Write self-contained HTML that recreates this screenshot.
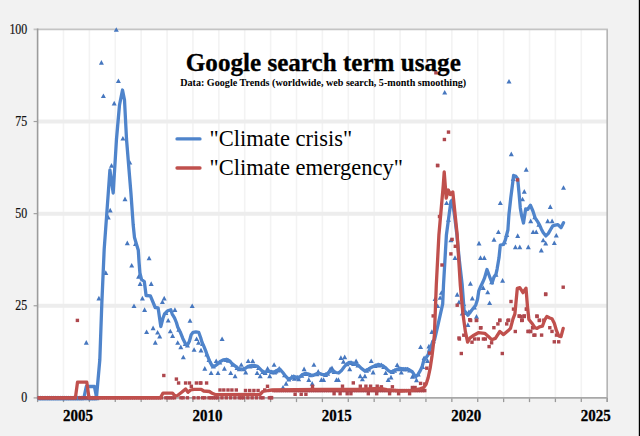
<!DOCTYPE html>
<html><head><meta charset="utf-8"><style>
html,body{margin:0;padding:0;background:#f2f2f2;overflow:hidden}
svg{display:block}
text{font-family:"Liberation Serif",serif}
</style></head><body>
<svg width="640" height="436" viewBox="0 0 640 436">
<rect x="0" y="0" width="640" height="436" fill="#f2f2f2"/>
<rect x="37.6" y="29.399999999999977" width="569.58" height="368.5" fill="#ffffff"/>
<line x1="63.49" y1="29.40" x2="63.49" y2="397.90" stroke="#f3f3f3" stroke-width="1.6"/>
<line x1="89.38" y1="29.40" x2="89.38" y2="397.90" stroke="#f3f3f3" stroke-width="1.6"/>
<line x1="115.27" y1="29.40" x2="115.27" y2="397.90" stroke="#f3f3f3" stroke-width="1.6"/>
<line x1="141.16" y1="29.40" x2="141.16" y2="397.90" stroke="#f3f3f3" stroke-width="1.6"/>
<line x1="167.05" y1="29.40" x2="167.05" y2="397.90" stroke="#f3f3f3" stroke-width="1.6"/>
<line x1="192.94" y1="29.40" x2="192.94" y2="397.90" stroke="#f3f3f3" stroke-width="1.6"/>
<line x1="218.83" y1="29.40" x2="218.83" y2="397.90" stroke="#f3f3f3" stroke-width="1.6"/>
<line x1="244.72" y1="29.40" x2="244.72" y2="397.90" stroke="#f3f3f3" stroke-width="1.6"/>
<line x1="270.61" y1="29.40" x2="270.61" y2="397.90" stroke="#f3f3f3" stroke-width="1.6"/>
<line x1="296.50" y1="29.40" x2="296.50" y2="397.90" stroke="#f3f3f3" stroke-width="1.6"/>
<line x1="322.39" y1="29.40" x2="322.39" y2="397.90" stroke="#f3f3f3" stroke-width="1.6"/>
<line x1="348.28" y1="29.40" x2="348.28" y2="397.90" stroke="#f3f3f3" stroke-width="1.6"/>
<line x1="374.17" y1="29.40" x2="374.17" y2="397.90" stroke="#f3f3f3" stroke-width="1.6"/>
<line x1="400.06" y1="29.40" x2="400.06" y2="397.90" stroke="#f3f3f3" stroke-width="1.6"/>
<line x1="425.95" y1="29.40" x2="425.95" y2="397.90" stroke="#f3f3f3" stroke-width="1.6"/>
<line x1="451.84" y1="29.40" x2="451.84" y2="397.90" stroke="#f3f3f3" stroke-width="1.6"/>
<line x1="477.73" y1="29.40" x2="477.73" y2="397.90" stroke="#f3f3f3" stroke-width="1.6"/>
<line x1="503.62" y1="29.40" x2="503.62" y2="397.90" stroke="#f3f3f3" stroke-width="1.6"/>
<line x1="529.51" y1="29.40" x2="529.51" y2="397.90" stroke="#f3f3f3" stroke-width="1.6"/>
<line x1="555.40" y1="29.40" x2="555.40" y2="397.90" stroke="#f3f3f3" stroke-width="1.6"/>
<line x1="581.29" y1="29.40" x2="581.29" y2="397.90" stroke="#f3f3f3" stroke-width="1.6"/>
<line x1="37.6" y1="305.77" x2="607.18" y2="305.77" stroke="#ededed" stroke-width="4"/>
<line x1="37.6" y1="213.65" x2="607.18" y2="213.65" stroke="#ededed" stroke-width="4"/>
<line x1="37.6" y1="121.52" x2="607.18" y2="121.52" stroke="#ededed" stroke-width="4"/>
<line x1="33.6" y1="29.40" x2="607.93" y2="29.40" stroke="#c4c4c4" stroke-width="1.6"/>
<line x1="607.18" y1="29.40" x2="607.18" y2="401.90" stroke="#b4b4b4" stroke-width="1.6"/>
<line x1="33.6" y1="397.90" x2="37.6" y2="397.90" stroke="#a0a0a0" stroke-width="1.2"/>
<line x1="33.6" y1="305.77" x2="37.6" y2="305.77" stroke="#a0a0a0" stroke-width="1.2"/>
<line x1="33.6" y1="213.65" x2="37.6" y2="213.65" stroke="#a0a0a0" stroke-width="1.2"/>
<line x1="33.6" y1="121.52" x2="37.6" y2="121.52" stroke="#a0a0a0" stroke-width="1.2"/>
<line x1="37.60" y1="397.9" x2="37.60" y2="402.09999999999997" stroke="#9a9a9a" stroke-width="1.3"/>
<line x1="63.49" y1="397.9" x2="63.49" y2="402.09999999999997" stroke="#9a9a9a" stroke-width="1.3"/>
<line x1="89.38" y1="397.9" x2="89.38" y2="402.09999999999997" stroke="#9a9a9a" stroke-width="1.3"/>
<line x1="115.27" y1="397.9" x2="115.27" y2="402.09999999999997" stroke="#9a9a9a" stroke-width="1.3"/>
<line x1="141.16" y1="397.9" x2="141.16" y2="402.09999999999997" stroke="#9a9a9a" stroke-width="1.3"/>
<line x1="167.05" y1="397.9" x2="167.05" y2="402.09999999999997" stroke="#9a9a9a" stroke-width="1.3"/>
<line x1="192.94" y1="397.9" x2="192.94" y2="402.09999999999997" stroke="#9a9a9a" stroke-width="1.3"/>
<line x1="218.83" y1="397.9" x2="218.83" y2="402.09999999999997" stroke="#9a9a9a" stroke-width="1.3"/>
<line x1="244.72" y1="397.9" x2="244.72" y2="402.09999999999997" stroke="#9a9a9a" stroke-width="1.3"/>
<line x1="270.61" y1="397.9" x2="270.61" y2="402.09999999999997" stroke="#9a9a9a" stroke-width="1.3"/>
<line x1="296.50" y1="397.9" x2="296.50" y2="402.09999999999997" stroke="#9a9a9a" stroke-width="1.3"/>
<line x1="322.39" y1="397.9" x2="322.39" y2="402.09999999999997" stroke="#9a9a9a" stroke-width="1.3"/>
<line x1="348.28" y1="397.9" x2="348.28" y2="402.09999999999997" stroke="#9a9a9a" stroke-width="1.3"/>
<line x1="374.17" y1="397.9" x2="374.17" y2="402.09999999999997" stroke="#9a9a9a" stroke-width="1.3"/>
<line x1="400.06" y1="397.9" x2="400.06" y2="402.09999999999997" stroke="#9a9a9a" stroke-width="1.3"/>
<line x1="425.95" y1="397.9" x2="425.95" y2="402.09999999999997" stroke="#9a9a9a" stroke-width="1.3"/>
<line x1="451.84" y1="397.9" x2="451.84" y2="402.09999999999997" stroke="#9a9a9a" stroke-width="1.3"/>
<line x1="477.73" y1="397.9" x2="477.73" y2="402.09999999999997" stroke="#9a9a9a" stroke-width="1.3"/>
<line x1="503.62" y1="397.9" x2="503.62" y2="402.09999999999997" stroke="#9a9a9a" stroke-width="1.3"/>
<line x1="529.51" y1="397.9" x2="529.51" y2="402.09999999999997" stroke="#9a9a9a" stroke-width="1.3"/>
<line x1="555.40" y1="397.9" x2="555.40" y2="402.09999999999997" stroke="#9a9a9a" stroke-width="1.3"/>
<line x1="581.29" y1="397.9" x2="581.29" y2="402.09999999999997" stroke="#9a9a9a" stroke-width="1.3"/>
<line x1="607.18" y1="397.9" x2="607.18" y2="402.09999999999997" stroke="#9a9a9a" stroke-width="1.3"/>
<line x1="37.6" y1="28.60" x2="37.6" y2="398.7" stroke="#9c9c9c" stroke-width="1.6"/>
<line x1="36.800000000000004" y1="397.9" x2="607.18" y2="397.9" stroke="#a8a8a8" stroke-width="1.6"/>
<defs><clipPath id="pc"><rect x="37.6" y="0" width="571.58" height="404"/></clipPath></defs>
<g clip-path="url(#pc)">
<path d="M38.57,395.60 L41.07,400.20 L36.07,400.20Z" fill="#4677bf"/>
<path d="M40.73,395.60 L43.23,400.20 L38.23,400.20Z" fill="#4677bf"/>
<path d="M42.89,395.60 L45.39,400.20 L40.39,400.20Z" fill="#4677bf"/>
<path d="M45.04,395.60 L47.54,400.20 L42.54,400.20Z" fill="#4677bf"/>
<path d="M47.20,395.60 L49.70,400.20 L44.70,400.20Z" fill="#4677bf"/>
<path d="M49.36,395.60 L51.86,400.20 L46.86,400.20Z" fill="#4677bf"/>
<path d="M51.52,395.60 L54.02,400.20 L49.02,400.20Z" fill="#4677bf"/>
<path d="M53.67,395.60 L56.17,400.20 L51.17,400.20Z" fill="#4677bf"/>
<path d="M55.83,395.60 L58.33,400.20 L53.33,400.20Z" fill="#4677bf"/>
<path d="M57.99,395.60 L60.49,400.20 L55.49,400.20Z" fill="#4677bf"/>
<path d="M60.15,395.60 L62.65,400.20 L57.65,400.20Z" fill="#4677bf"/>
<path d="M62.30,395.60 L64.80,400.20 L59.80,400.20Z" fill="#4677bf"/>
<path d="M64.46,395.60 L66.96,400.20 L61.96,400.20Z" fill="#4677bf"/>
<path d="M66.62,395.60 L69.12,400.20 L64.12,400.20Z" fill="#4677bf"/>
<path d="M68.78,395.60 L71.28,400.20 L66.28,400.20Z" fill="#4677bf"/>
<path d="M70.93,395.60 L73.43,400.20 L68.43,400.20Z" fill="#4677bf"/>
<path d="M73.09,395.60 L75.59,400.20 L70.59,400.20Z" fill="#4677bf"/>
<path d="M75.25,395.60 L77.75,400.20 L72.75,400.20Z" fill="#4677bf"/>
<path d="M77.41,395.60 L79.91,400.20 L74.91,400.20Z" fill="#4677bf"/>
<path d="M79.56,395.60 L82.06,400.20 L77.06,400.20Z" fill="#4677bf"/>
<path d="M81.72,395.60 L84.22,400.20 L79.22,400.20Z" fill="#4677bf"/>
<path d="M83.88,395.60 L86.38,400.20 L81.38,400.20Z" fill="#4677bf"/>
<path d="M88.19,395.60 L90.69,400.20 L85.69,400.20Z" fill="#4677bf"/>
<path d="M90.35,395.60 L92.85,400.20 L87.85,400.20Z" fill="#4677bf"/>
<path d="M92.51,395.60 L95.01,400.20 L90.01,400.20Z" fill="#4677bf"/>
<path d="M94.67,395.60 L97.17,400.20 L92.17,400.20Z" fill="#4677bf"/>
<path d="M96.82,395.60 L99.32,400.20 L94.32,400.20Z" fill="#4677bf"/>
<path d="M116.30,27.20 L118.80,31.80 L113.80,31.80Z" fill="#4677bf"/>
<path d="M101.40,60.10 L103.90,64.70 L98.90,64.70Z" fill="#4677bf"/>
<path d="M118.40,78.40 L120.90,83.00 L115.90,83.00Z" fill="#4677bf"/>
<path d="M103.40,93.40 L105.90,98.00 L100.90,98.00Z" fill="#4677bf"/>
<path d="M114.20,100.80 L116.70,105.40 L111.70,105.40Z" fill="#4677bf"/>
<path d="M122.90,135.90 L125.40,140.50 L120.40,140.50Z" fill="#4677bf"/>
<path d="M111.50,163.10 L114.00,167.70 L109.00,167.70Z" fill="#4677bf"/>
<path d="M129.80,159.90 L132.30,164.50 L127.30,164.50Z" fill="#4677bf"/>
<path d="M125.00,196.60 L127.50,201.20 L122.50,201.20Z" fill="#4677bf"/>
<path d="M110.20,207.80 L112.70,212.40 L107.70,212.40Z" fill="#4677bf"/>
<path d="M108.30,214.90 L110.80,219.50 L105.80,219.50Z" fill="#4677bf"/>
<path d="M127.30,240.60 L129.80,245.20 L124.80,245.20Z" fill="#4677bf"/>
<path d="M135.50,241.40 L138.00,246.00 L133.00,246.00Z" fill="#4677bf"/>
<path d="M105.80,270.30 L108.30,274.90 L103.30,274.90Z" fill="#4677bf"/>
<path d="M98.90,295.80 L101.40,300.40 L96.40,300.40Z" fill="#4677bf"/>
<path d="M131.70,263.00 L134.20,267.60 L129.20,267.60Z" fill="#4677bf"/>
<path d="M149.10,255.70 L151.60,260.30 L146.60,260.30Z" fill="#4677bf"/>
<path d="M138.60,274.10 L141.10,278.70 L136.10,278.70Z" fill="#4677bf"/>
<path d="M140.10,281.30 L142.60,285.90 L137.60,285.90Z" fill="#4677bf"/>
<path d="M151.20,281.30 L153.70,285.90 L148.70,285.90Z" fill="#4677bf"/>
<path d="M142.40,295.80 L144.90,300.40 L139.90,300.40Z" fill="#4677bf"/>
<path d="M164.20,295.80 L166.70,300.40 L161.70,300.40Z" fill="#4677bf"/>
<path d="M134.00,303.50 L136.50,308.10 L131.50,308.10Z" fill="#4677bf"/>
<path d="M144.60,307.30 L147.10,311.90 L142.10,311.90Z" fill="#4677bf"/>
<path d="M146.60,329.40 L149.10,334.00 L144.10,334.00Z" fill="#4677bf"/>
<path d="M153.10,325.60 L155.60,330.20 L150.60,330.20Z" fill="#4677bf"/>
<path d="M157.60,330.00 L160.10,334.60 L155.10,334.60Z" fill="#4677bf"/>
<path d="M159.70,333.80 L162.20,338.40 L157.20,338.40Z" fill="#4677bf"/>
<path d="M155.30,340.10 L157.80,344.70 L152.80,344.70Z" fill="#4677bf"/>
<path d="M86.30,340.10 L88.80,344.70 L83.80,344.70Z" fill="#4677bf"/>
<path d="M162.40,299.40 L164.90,304.00 L159.90,304.00Z" fill="#4677bf"/>
<path d="M174.90,307.30 L177.40,311.90 L172.40,311.90Z" fill="#4677bf"/>
<path d="M192.20,303.50 L194.70,308.10 L189.70,308.10Z" fill="#4677bf"/>
<path d="M168.20,318.00 L170.70,322.60 L165.70,322.60Z" fill="#4677bf"/>
<path d="M190.00,318.20 L192.50,322.80 L187.50,322.80Z" fill="#4677bf"/>
<path d="M170.30,328.70 L172.80,333.30 L167.80,333.30Z" fill="#4677bf"/>
<path d="M172.60,333.30 L175.10,337.90 L170.10,337.90Z" fill="#4677bf"/>
<path d="M177.70,340.20 L180.20,344.80 L175.20,344.80Z" fill="#4677bf"/>
<path d="M180.80,344.60 L183.30,349.20 L178.30,349.20Z" fill="#4677bf"/>
<path d="M183.30,354.70 L185.80,359.30 L180.80,359.30Z" fill="#4677bf"/>
<path d="M196.60,336.40 L199.10,341.00 L194.10,341.00Z" fill="#4677bf"/>
<path d="M198.50,340.20 L201.00,344.80 L196.00,344.80Z" fill="#4677bf"/>
<path d="M194.10,347.20 L196.60,351.80 L191.60,351.80Z" fill="#4677bf"/>
<path d="M201.00,347.80 L203.50,352.40 L198.50,352.40Z" fill="#4677bf"/>
<path d="M222.10,336.40 L224.60,341.00 L219.60,341.00Z" fill="#4677bf"/>
<path d="M204.80,366.10 L207.30,370.70 L202.30,370.70Z" fill="#4677bf"/>
<path d="M211.10,370.50 L213.60,375.10 L208.60,375.10Z" fill="#4677bf"/>
<path d="M216.20,358.50 L218.70,363.10 L213.70,363.10Z" fill="#4677bf"/>
<path d="M218.00,370.50 L220.50,375.10 L215.50,375.10Z" fill="#4677bf"/>
<path d="M224.40,366.10 L226.90,370.70 L221.90,370.70Z" fill="#4677bf"/>
<path d="M230.70,370.50 L233.20,375.10 L228.20,375.10Z" fill="#4677bf"/>
<path d="M235.10,373.70 L237.60,378.30 L232.60,378.30Z" fill="#4677bf"/>
<path d="M241.30,362.20 L243.80,366.80 L238.80,366.80Z" fill="#4677bf"/>
<path d="M245.70,369.80 L248.20,374.40 L243.20,374.40Z" fill="#4677bf"/>
<path d="M248.20,358.40 L250.70,363.00 L245.70,363.00Z" fill="#4677bf"/>
<path d="M252.70,358.40 L255.20,363.00 L250.20,363.00Z" fill="#4677bf"/>
<path d="M257.10,370.40 L259.60,375.00 L254.60,375.00Z" fill="#4677bf"/>
<path d="M260.20,373.60 L262.70,378.20 L257.70,378.20Z" fill="#4677bf"/>
<path d="M267.60,366.00 L270.10,370.60 L265.10,370.60Z" fill="#4677bf"/>
<path d="M269.70,373.60 L272.20,378.20 L267.20,378.20Z" fill="#4677bf"/>
<path d="M274.10,362.20 L276.60,366.80 L271.60,366.80Z" fill="#4677bf"/>
<path d="M274.70,369.80 L277.20,374.40 L272.20,374.40Z" fill="#4677bf"/>
<path d="M279.20,366.00 L281.70,370.60 L276.70,370.60Z" fill="#4677bf"/>
<path d="M283.00,384.90 L285.50,389.50 L280.50,389.50Z" fill="#4677bf"/>
<path d="M286.10,381.10 L288.60,385.70 L283.60,385.70Z" fill="#4677bf"/>
<path d="M291.80,374.20 L294.30,378.80 L289.30,378.80Z" fill="#4677bf"/>
<path d="M294.30,376.10 L296.80,380.70 L291.80,380.70Z" fill="#4677bf"/>
<path d="M298.70,376.70 L301.20,381.30 L296.20,381.30Z" fill="#4677bf"/>
<path d="M304.10,366.60 L306.60,371.20 L301.60,371.20Z" fill="#4677bf"/>
<path d="M308.80,377.30 L311.30,381.90 L306.30,381.90Z" fill="#4677bf"/>
<path d="M312.20,381.10 L314.70,385.70 L309.70,385.70Z" fill="#4677bf"/>
<path d="M313.90,362.20 L316.40,366.80 L311.40,366.80Z" fill="#4677bf"/>
<path d="M318.20,369.10 L320.70,373.70 L315.70,373.70Z" fill="#4677bf"/>
<path d="M321.40,377.30 L323.90,381.90 L318.90,381.90Z" fill="#4677bf"/>
<path d="M323.60,377.30 L326.10,381.90 L321.10,381.90Z" fill="#4677bf"/>
<path d="M330.20,366.60 L332.70,371.20 L327.70,371.20Z" fill="#4677bf"/>
<path d="M332.00,365.40 L334.50,370.00 L329.50,370.00Z" fill="#4677bf"/>
<path d="M336.50,377.30 L339.00,381.90 L334.00,381.90Z" fill="#4677bf"/>
<path d="M338.40,377.30 L340.90,381.90 L335.90,381.90Z" fill="#4677bf"/>
<path d="M340.90,355.30 L343.40,359.90 L338.40,359.90Z" fill="#4677bf"/>
<path d="M344.70,354.60 L347.20,359.20 L342.20,359.20Z" fill="#4677bf"/>
<path d="M343.40,359.10 L345.90,363.70 L340.90,363.70Z" fill="#4677bf"/>
<path d="M349.70,366.60 L352.20,371.20 L347.20,371.20Z" fill="#4677bf"/>
<path d="M356.10,358.40 L358.60,363.00 L353.60,363.00Z" fill="#4677bf"/>
<path d="M360.20,373.60 L362.70,378.20 L357.70,378.20Z" fill="#4677bf"/>
<path d="M362.40,376.70 L364.90,381.30 L359.90,381.30Z" fill="#4677bf"/>
<path d="M364.90,373.60 L367.40,378.20 L362.40,378.20Z" fill="#4677bf"/>
<path d="M371.20,358.40 L373.70,363.00 L368.70,363.00Z" fill="#4677bf"/>
<path d="M373.10,369.80 L375.60,374.40 L370.60,374.40Z" fill="#4677bf"/>
<path d="M378.10,362.20 L380.60,366.80 L375.60,366.80Z" fill="#4677bf"/>
<path d="M385.70,370.40 L388.20,375.00 L383.20,375.00Z" fill="#4677bf"/>
<path d="M388.20,377.30 L390.70,381.90 L385.70,381.90Z" fill="#4677bf"/>
<path d="M381.40,362.40 L383.90,367.00 L378.90,367.00Z" fill="#4677bf"/>
<path d="M391.00,374.80 L393.50,379.40 L388.50,379.40Z" fill="#4677bf"/>
<path d="M397.20,362.40 L399.70,367.00 L394.70,367.00Z" fill="#4677bf"/>
<path d="M401.30,370.00 L403.80,374.60 L398.80,374.60Z" fill="#4677bf"/>
<path d="M412.40,374.10 L414.90,378.70 L409.90,378.70Z" fill="#4677bf"/>
<path d="M416.50,377.60 L419.00,382.20 L414.00,382.20Z" fill="#4677bf"/>
<path d="M424.10,355.50 L426.60,360.10 L421.60,360.10Z" fill="#4677bf"/>
<path d="M427.50,358.30 L430.00,362.90 L425.00,362.90Z" fill="#4677bf"/>
<path d="M422.70,364.50 L425.20,369.10 L420.20,369.10Z" fill="#4677bf"/>
<path d="M420.60,344.50 L423.10,349.10 L418.10,349.10Z" fill="#4677bf"/>
<path d="M428.90,343.80 L431.40,348.40 L426.40,348.40Z" fill="#4677bf"/>
<path d="M429.60,347.20 L432.10,351.80 L427.10,351.80Z" fill="#4677bf"/>
<path d="M444.70,90.00 L447.20,94.60 L442.20,94.60Z" fill="#4677bf"/>
<path d="M446.60,200.40 L449.10,205.00 L444.10,205.00Z" fill="#4677bf"/>
<path d="M450.90,237.60 L453.40,242.20 L448.40,242.20Z" fill="#4677bf"/>
<path d="M479.00,240.80 L481.50,245.40 L476.50,245.40Z" fill="#4677bf"/>
<path d="M455.00,255.30 L457.50,259.90 L452.50,259.90Z" fill="#4677bf"/>
<path d="M480.50,255.30 L483.00,259.90 L478.00,259.90Z" fill="#4677bf"/>
<path d="M484.30,255.30 L486.80,259.90 L481.80,259.90Z" fill="#4677bf"/>
<path d="M470.40,281.10 L472.90,285.70 L467.90,285.70Z" fill="#4677bf"/>
<path d="M441.40,290.20 L443.90,294.80 L438.90,294.80Z" fill="#4677bf"/>
<path d="M440.10,295.20 L442.60,299.80 L437.60,299.80Z" fill="#4677bf"/>
<path d="M437.60,303.40 L440.10,308.00 L435.10,308.00Z" fill="#4677bf"/>
<path d="M435.10,296.50 L437.60,301.10 L432.60,301.10Z" fill="#4677bf"/>
<path d="M431.90,329.30 L434.40,333.90 L429.40,333.90Z" fill="#4677bf"/>
<path d="M457.20,292.10 L459.70,296.70 L454.70,296.70Z" fill="#4677bf"/>
<path d="M459.00,299.60 L461.50,304.20 L456.50,304.20Z" fill="#4677bf"/>
<path d="M462.20,311.00 L464.70,315.60 L459.70,315.60Z" fill="#4677bf"/>
<path d="M472.30,295.80 L474.80,300.40 L469.80,300.40Z" fill="#4677bf"/>
<path d="M476.50,314.10 L479.00,318.70 L474.00,318.70Z" fill="#4677bf"/>
<path d="M467.90,322.30 L470.40,326.90 L465.40,326.90Z" fill="#4677bf"/>
<path d="M468.90,309.50 L471.40,314.10 L466.40,314.10Z" fill="#4677bf"/>
<path d="M498.40,229.50 L500.90,234.10 L495.90,234.10Z" fill="#4677bf"/>
<path d="M494.00,237.10 L496.50,241.70 L491.50,241.70Z" fill="#4677bf"/>
<path d="M502.60,278.10 L505.10,282.70 L500.10,282.70Z" fill="#4677bf"/>
<path d="M517.70,233.30 L520.20,237.90 L515.20,237.90Z" fill="#4677bf"/>
<path d="M515.40,244.60 L517.90,249.20 L512.90,249.20Z" fill="#4677bf"/>
<path d="M519.80,244.60 L522.30,249.20 L517.30,249.20Z" fill="#4677bf"/>
<path d="M528.30,244.60 L530.80,249.20 L525.80,249.20Z" fill="#4677bf"/>
<path d="M533.10,229.50 L535.60,234.10 L530.60,234.10Z" fill="#4677bf"/>
<path d="M536.20,229.50 L538.70,234.10 L533.70,234.10Z" fill="#4677bf"/>
<path d="M543.20,237.70 L545.70,242.30 L540.70,242.30Z" fill="#4677bf"/>
<path d="M545.70,240.80 L548.20,245.40 L543.20,245.40Z" fill="#4677bf"/>
<path d="M541.30,247.80 L543.80,252.40 L538.80,252.40Z" fill="#4677bf"/>
<path d="M483.20,285.30 L485.70,289.90 L480.70,289.90Z" fill="#4677bf"/>
<path d="M487.70,289.70 L490.20,294.30 L485.20,294.30Z" fill="#4677bf"/>
<path d="M489.60,300.40 L492.10,305.00 L487.10,305.00Z" fill="#4677bf"/>
<path d="M526.20,167.10 L528.70,171.70 L523.70,171.70Z" fill="#4677bf"/>
<path d="M524.30,189.10 L526.80,193.70 L521.80,193.70Z" fill="#4677bf"/>
<path d="M522.50,196.70 L525.00,201.30 L520.00,201.30Z" fill="#4677bf"/>
<path d="M500.30,200.50 L502.80,205.10 L497.80,205.10Z" fill="#4677bf"/>
<path d="M550.30,204.30 L552.80,208.90 L547.80,208.90Z" fill="#4677bf"/>
<path d="M509.00,78.90 L511.50,83.50 L506.50,83.50Z" fill="#4677bf"/>
<path d="M511.30,151.60 L513.80,156.20 L508.80,156.20Z" fill="#4677bf"/>
<path d="M563.50,185.20 L566.00,189.80 L561.00,189.80Z" fill="#4677bf"/>
<path d="M530.70,218.60 L533.20,223.20 L528.20,223.20Z" fill="#4677bf"/>
<path d="M547.70,218.60 L550.20,223.20 L545.20,223.20Z" fill="#4677bf"/>
<path d="M552.10,218.60 L554.60,223.20 L549.60,223.20Z" fill="#4677bf"/>
<path d="M538.90,222.20 L541.40,226.80 L536.40,226.80Z" fill="#4677bf"/>
<path d="M556.30,232.90 L558.80,237.50 L553.80,237.50Z" fill="#4677bf"/>
<path d="M554.30,240.50 L556.80,245.10 L551.80,245.10Z" fill="#4677bf"/>
<path d="M165.86,310.49 L168.36,315.09 L163.36,315.09Z" fill="#4677bf"/>
<path d="M178.81,327.07 L181.31,331.67 L176.31,331.67Z" fill="#4677bf"/>
<path d="M185.28,341.35 L187.78,345.95 L182.78,345.95Z" fill="#4677bf"/>
<path d="M187.44,342.87 L189.94,347.47 L184.94,347.47Z" fill="#4677bf"/>
<path d="M202.54,341.30 L205.04,345.90 L200.04,345.90Z" fill="#4677bf"/>
<path d="M206.86,351.99 L209.36,356.59 L204.36,356.59Z" fill="#4677bf"/>
<path d="M209.01,357.46 L211.51,362.06 L206.51,362.06Z" fill="#4677bf"/>
<path d="M213.33,364.00 L215.83,368.60 L210.83,368.60Z" fill="#4677bf"/>
<path d="M219.80,359.80 L222.30,364.40 L217.30,364.40Z" fill="#4677bf"/>
<path d="M226.27,357.48 L228.77,362.08 L223.77,362.08Z" fill="#4677bf"/>
<path d="M228.43,358.17 L230.93,362.77 L225.93,362.77Z" fill="#4677bf"/>
<path d="M232.75,362.14 L235.25,366.74 L230.25,366.74Z" fill="#4677bf"/>
<path d="M237.06,365.35 L239.56,369.95 L234.56,369.95Z" fill="#4677bf"/>
<path d="M239.22,366.67 L241.72,371.27 L236.72,371.27Z" fill="#4677bf"/>
<path d="M243.53,366.77 L246.03,371.37 L241.03,371.37Z" fill="#4677bf"/>
<path d="M250.01,363.78 L252.51,368.38 L247.51,368.38Z" fill="#4677bf"/>
<path d="M254.32,363.40 L256.82,368.00 L251.82,368.00Z" fill="#4677bf"/>
<path d="M258.64,365.44 L261.14,370.04 L256.14,370.04Z" fill="#4677bf"/>
<path d="M262.95,369.38 L265.45,373.98 L260.45,373.98Z" fill="#4677bf"/>
<path d="M265.11,370.35 L267.61,374.95 L262.61,374.95Z" fill="#4677bf"/>
<path d="M271.58,369.56 L274.08,374.16 L269.08,374.16Z" fill="#4677bf"/>
<path d="M275.90,369.01 L278.40,373.61 L273.40,373.61Z" fill="#4677bf"/>
<path d="M278.05,367.83 L280.55,372.43 L275.55,372.43Z" fill="#4677bf"/>
<path d="M284.53,372.68 L287.03,377.28 L282.03,377.28Z" fill="#4677bf"/>
<path d="M288.84,376.84 L291.34,381.44 L286.34,381.44Z" fill="#4677bf"/>
<path d="M293.16,374.51 L295.66,379.11 L290.66,379.11Z" fill="#4677bf"/>
<path d="M297.47,375.10 L299.97,379.70 L294.97,379.70Z" fill="#4677bf"/>
<path d="M301.79,373.05 L304.29,377.65 L299.29,377.65Z" fill="#4677bf"/>
<path d="M306.10,371.50 L308.60,376.10 L303.60,376.10Z" fill="#4677bf"/>
<path d="M310.42,372.64 L312.92,377.24 L307.92,377.24Z" fill="#4677bf"/>
<path d="M316.89,371.68 L319.39,376.28 L314.39,376.28Z" fill="#4677bf"/>
<path d="M325.52,372.29 L328.02,376.89 L323.02,376.89Z" fill="#4677bf"/>
<path d="M327.68,371.16 L330.18,375.76 L325.18,375.76Z" fill="#4677bf"/>
<path d="M334.15,369.52 L336.65,374.12 L331.65,374.12Z" fill="#4677bf"/>
<path d="M347.09,361.73 L349.59,366.33 L344.59,366.33Z" fill="#4677bf"/>
<path d="M351.41,360.50 L353.91,365.10 L348.91,365.10Z" fill="#4677bf"/>
<path d="M353.57,361.29 L356.07,365.89 L351.07,365.89Z" fill="#4677bf"/>
<path d="M357.88,362.92 L360.38,367.52 L355.38,367.52Z" fill="#4677bf"/>
<path d="M366.51,368.05 L369.01,372.65 L364.01,372.65Z" fill="#4677bf"/>
<path d="M368.67,366.95 L371.17,371.55 L366.17,371.55Z" fill="#4677bf"/>
<path d="M375.14,363.41 L377.64,368.01 L372.64,368.01Z" fill="#4677bf"/>
<path d="M379.46,362.78 L381.96,367.38 L376.96,367.38Z" fill="#4677bf"/>
<path d="M383.77,364.36 L386.27,368.96 L381.27,368.96Z" fill="#4677bf"/>
<path d="M392.40,369.35 L394.90,373.95 L389.90,373.95Z" fill="#4677bf"/>
<path d="M394.56,368.27 L397.06,372.87 L392.06,372.87Z" fill="#4677bf"/>
<path d="M398.87,366.61 L401.37,371.21 L396.37,371.21Z" fill="#4677bf"/>
<path d="M403.19,366.70 L405.69,371.30 L400.69,371.30Z" fill="#4677bf"/>
<path d="M405.35,366.70 L407.85,371.30 L402.85,371.30Z" fill="#4677bf"/>
<path d="M407.50,366.70 L410.00,371.30 L405.00,371.30Z" fill="#4677bf"/>
<path d="M409.66,368.00 L412.16,372.60 L407.16,372.60Z" fill="#4677bf"/>
<path d="M413.98,372.32 L416.48,376.92 L411.48,376.92Z" fill="#4677bf"/>
<path d="M418.29,371.87 L420.79,376.47 L415.79,376.47Z" fill="#4677bf"/>
<path d="M433.39,338.75 L435.89,343.35 L430.89,343.35Z" fill="#4677bf"/>
<path d="M448.50,217.25 L451.00,221.85 L446.00,221.85Z" fill="#4677bf"/>
<path d="M452.81,201.45 L455.31,206.05 L450.31,206.05Z" fill="#4677bf"/>
<path d="M463.60,301.45 L466.10,306.05 L461.10,306.05Z" fill="#4677bf"/>
<path d="M465.76,310.32 L468.26,314.92 L463.26,314.92Z" fill="#4677bf"/>
<path d="M474.39,304.81 L476.89,309.41 L471.89,309.41Z" fill="#4677bf"/>
<path d="M491.65,279.75 L494.15,284.35 L489.15,284.35Z" fill="#4677bf"/>
<path d="M495.96,272.15 L498.46,276.75 L493.46,276.75Z" fill="#4677bf"/>
<path d="M504.59,239.64 L507.09,244.24 L502.09,244.24Z" fill="#4677bf"/>
<path d="M506.75,232.33 L509.25,236.93 L504.25,236.93Z" fill="#4677bf"/>
<path d="M513.22,176.46 L515.72,181.06 L510.72,181.06Z" fill="#4677bf"/>
<path d="M534.80,214.76 L537.30,219.36 L532.30,219.36Z" fill="#4677bf"/>
<path d="M37.6,397.9 L83.9,397.9 L86.3,386.5 L94.4,386.5 L96.5,397.0 L99.8,360.0 L101.8,304.0 L104.2,249.0 L108.2,194.0 L109.9,170.0 L113.2,193.0 L116.5,139.0 L119.5,105.0 L122.5,90.0 L124.5,100.0 L126.5,139.0 L131.0,194.0 L133.2,225.0 L134.5,237.6 L136.4,243.9 L138.3,250.3 L139.1,262.9 L139.9,273.0 L141.5,279.5 L144.3,281.5 L146.1,295.5 L150.4,295.8 L155.2,307.5 L158.1,307.8 L160.8,326.5 L163.0,318.0 L164.5,314.0 L167.6,310.8 L170.8,309.8 L172.2,314.1 L174.5,317.8 L176.4,322.5 L177.8,327.2 L180.2,331.9 L182.8,338.4 L185.6,344.1 L187.5,345.0 L189.4,341.2 L191.2,334.7 L193.1,332.3 L195.9,331.9 L198.7,332.3 L200.6,337.5 L202.0,342.2 L203.9,346.4 L205.8,351.1 L207.6,356.2 L210.0,361.9 L212.3,366.1 L214.7,366.1 L217.5,364.2 L220.3,361.4 L223.1,360.0 L226.9,359.5 L229.7,360.9 L232.0,363.7 L235.3,366.1 L238.7,368.7 L242.5,369.2 L245.3,368.3 L248.1,366.4 L251.4,365.5 L254.7,365.5 L257.5,366.4 L259.8,368.7 L262.2,371.1 L265.0,372.5 L267.8,371.1 L271.1,371.6 L274.4,372.0 L277.6,370.1 L280.0,369.2 L282.8,372.5 L285.6,376.2 L288.4,379.1 L291.2,378.1 L293.7,376.2 L296.6,377.2 L299.4,377.2 L302.2,374.8 L305.0,373.4 L307.8,373.9 L310.6,374.8 L313.4,375.3 L316.2,373.9 L319.1,373.4 L321.9,374.4 L324.7,374.8 L327.5,373.4 L330.3,371.1 L333.1,371.1 L335.9,372.5 L338.7,373.0 L341.5,370.6 L343.9,367.3 L346.2,364.5 L348.6,362.7 L350.6,362.3 L354.4,363.7 L358.1,365.1 L361.4,368.4 L364.7,370.8 L367.5,369.8 L370.3,368.0 L373.1,366.6 L375.9,365.1 L378.7,364.7 L382.5,365.6 L385.3,367.5 L388.1,370.3 L390.9,372.2 L393.7,370.8 L396.5,369.4 L400.3,368.3 L403.0,368.8 L407.6,368.8 L412.2,371.7 L415.6,376.9 L417.9,374.6 L419.7,371.7 L422.0,367.1 L423.7,360.8 L426.0,357.9 L428.3,354.5 L429.4,349.9 L431.1,346.5 L432.8,341.3 L434.5,340.0 L437.6,326.6 L442.7,303.9 L443.5,285.0 L446.4,235.0 L450.9,201.4 L452.3,200.0 L454.6,216.0 L456.8,234.0 L459.3,260.0 L462.2,285.0 L464.1,310.2 L467.9,315.3 L471.7,310.2 L475.7,305.3 L477.6,299.0 L478.8,290.8 L480.7,286.4 L482.6,282.6 L484.5,278.2 L487.0,269.5 L490.2,278.2 L492.1,283.0 L494.0,277.0 L496.0,274.2 L497.1,269.1 L499.0,257.8 L500.3,245.1 L503.4,244.5 L505.3,240.1 L506.6,235.0 L507.9,230.0 L508.9,215.0 L510.8,197.8 L512.4,185.2 L513.6,175.5 L515.9,176.4 L517.7,178.9 L519.0,192.8 L520.3,207.9 L521.5,215.0 L523.5,223.0 L525.7,208.8 L527.6,209.5 L530.5,205.3 L532.9,211.0 L535.1,217.8 L537.6,221.7 L539.5,224.8 L541.4,229.2 L543.3,232.8 L545.9,235.9 L548.4,233.4 L550.9,229.0 L552.8,225.8 L555.3,225.2 L557.9,224.6 L561.0,227.7 L563.5,222.7" fill="none" stroke="#4f84cb" stroke-width="3.3" stroke-linejoin="round" stroke-linecap="round"/>
<rect x="36.87" y="396.10" width="3.4" height="3.4" fill="#ae474d"/>
<rect x="39.03" y="396.10" width="3.4" height="3.4" fill="#ae474d"/>
<rect x="41.19" y="396.10" width="3.4" height="3.4" fill="#ae474d"/>
<rect x="43.34" y="396.10" width="3.4" height="3.4" fill="#ae474d"/>
<rect x="45.50" y="396.10" width="3.4" height="3.4" fill="#ae474d"/>
<rect x="47.66" y="396.10" width="3.4" height="3.4" fill="#ae474d"/>
<rect x="49.82" y="396.10" width="3.4" height="3.4" fill="#ae474d"/>
<rect x="51.97" y="396.10" width="3.4" height="3.4" fill="#ae474d"/>
<rect x="54.13" y="396.10" width="3.4" height="3.4" fill="#ae474d"/>
<rect x="56.29" y="396.10" width="3.4" height="3.4" fill="#ae474d"/>
<rect x="58.45" y="396.10" width="3.4" height="3.4" fill="#ae474d"/>
<rect x="60.60" y="396.10" width="3.4" height="3.4" fill="#ae474d"/>
<rect x="62.76" y="396.10" width="3.4" height="3.4" fill="#ae474d"/>
<rect x="64.92" y="396.10" width="3.4" height="3.4" fill="#ae474d"/>
<rect x="67.08" y="396.10" width="3.4" height="3.4" fill="#ae474d"/>
<rect x="69.23" y="396.10" width="3.4" height="3.4" fill="#ae474d"/>
<rect x="71.39" y="396.10" width="3.4" height="3.4" fill="#ae474d"/>
<rect x="73.55" y="396.10" width="3.4" height="3.4" fill="#ae474d"/>
<rect x="77.86" y="396.10" width="3.4" height="3.4" fill="#ae474d"/>
<rect x="80.02" y="396.10" width="3.4" height="3.4" fill="#ae474d"/>
<rect x="82.18" y="396.10" width="3.4" height="3.4" fill="#ae474d"/>
<rect x="84.34" y="396.10" width="3.4" height="3.4" fill="#ae474d"/>
<rect x="86.49" y="396.10" width="3.4" height="3.4" fill="#ae474d"/>
<rect x="88.65" y="396.10" width="3.4" height="3.4" fill="#ae474d"/>
<rect x="90.81" y="396.10" width="3.4" height="3.4" fill="#ae474d"/>
<rect x="92.97" y="396.10" width="3.4" height="3.4" fill="#ae474d"/>
<rect x="95.12" y="396.10" width="3.4" height="3.4" fill="#ae474d"/>
<rect x="97.28" y="396.10" width="3.4" height="3.4" fill="#ae474d"/>
<rect x="99.44" y="396.10" width="3.4" height="3.4" fill="#ae474d"/>
<rect x="101.60" y="396.10" width="3.4" height="3.4" fill="#ae474d"/>
<rect x="103.75" y="396.10" width="3.4" height="3.4" fill="#ae474d"/>
<rect x="105.91" y="396.10" width="3.4" height="3.4" fill="#ae474d"/>
<rect x="108.07" y="396.10" width="3.4" height="3.4" fill="#ae474d"/>
<rect x="110.23" y="396.10" width="3.4" height="3.4" fill="#ae474d"/>
<rect x="112.38" y="396.10" width="3.4" height="3.4" fill="#ae474d"/>
<rect x="114.54" y="396.10" width="3.4" height="3.4" fill="#ae474d"/>
<rect x="116.70" y="396.10" width="3.4" height="3.4" fill="#ae474d"/>
<rect x="118.86" y="396.10" width="3.4" height="3.4" fill="#ae474d"/>
<rect x="121.01" y="396.10" width="3.4" height="3.4" fill="#ae474d"/>
<rect x="123.17" y="396.10" width="3.4" height="3.4" fill="#ae474d"/>
<rect x="125.33" y="396.10" width="3.4" height="3.4" fill="#ae474d"/>
<rect x="127.49" y="396.10" width="3.4" height="3.4" fill="#ae474d"/>
<rect x="129.64" y="396.10" width="3.4" height="3.4" fill="#ae474d"/>
<rect x="131.80" y="396.10" width="3.4" height="3.4" fill="#ae474d"/>
<rect x="133.96" y="396.10" width="3.4" height="3.4" fill="#ae474d"/>
<rect x="136.12" y="396.10" width="3.4" height="3.4" fill="#ae474d"/>
<rect x="138.27" y="396.10" width="3.4" height="3.4" fill="#ae474d"/>
<rect x="140.43" y="396.10" width="3.4" height="3.4" fill="#ae474d"/>
<rect x="142.59" y="396.10" width="3.4" height="3.4" fill="#ae474d"/>
<rect x="144.75" y="396.10" width="3.4" height="3.4" fill="#ae474d"/>
<rect x="146.90" y="396.10" width="3.4" height="3.4" fill="#ae474d"/>
<rect x="149.06" y="396.10" width="3.4" height="3.4" fill="#ae474d"/>
<rect x="151.22" y="396.10" width="3.4" height="3.4" fill="#ae474d"/>
<rect x="153.38" y="396.10" width="3.4" height="3.4" fill="#ae474d"/>
<rect x="155.53" y="396.10" width="3.4" height="3.4" fill="#ae474d"/>
<rect x="157.69" y="396.10" width="3.4" height="3.4" fill="#ae474d"/>
<rect x="159.85" y="396.10" width="3.4" height="3.4" fill="#ae474d"/>
<rect x="164.16" y="396.10" width="3.4" height="3.4" fill="#ae474d"/>
<rect x="166.32" y="396.10" width="3.4" height="3.4" fill="#ae474d"/>
<rect x="168.48" y="396.10" width="3.4" height="3.4" fill="#ae474d"/>
<rect x="170.64" y="396.10" width="3.4" height="3.4" fill="#ae474d"/>
<rect x="172.79" y="396.10" width="3.4" height="3.4" fill="#ae474d"/>
<rect x="179.27" y="396.10" width="3.4" height="3.4" fill="#ae474d"/>
<rect x="181.42" y="396.10" width="3.4" height="3.4" fill="#ae474d"/>
<rect x="185.74" y="396.10" width="3.4" height="3.4" fill="#ae474d"/>
<rect x="192.21" y="396.10" width="3.4" height="3.4" fill="#ae474d"/>
<rect x="196.53" y="396.10" width="3.4" height="3.4" fill="#ae474d"/>
<rect x="200.84" y="396.10" width="3.4" height="3.4" fill="#ae474d"/>
<rect x="203.00" y="396.10" width="3.4" height="3.4" fill="#ae474d"/>
<rect x="207.31" y="396.10" width="3.4" height="3.4" fill="#ae474d"/>
<rect x="209.47" y="396.10" width="3.4" height="3.4" fill="#ae474d"/>
<rect x="211.63" y="396.10" width="3.4" height="3.4" fill="#ae474d"/>
<rect x="213.79" y="396.10" width="3.4" height="3.4" fill="#ae474d"/>
<rect x="215.94" y="396.10" width="3.4" height="3.4" fill="#ae474d"/>
<rect x="220.26" y="396.10" width="3.4" height="3.4" fill="#ae474d"/>
<rect x="224.57" y="396.10" width="3.4" height="3.4" fill="#ae474d"/>
<rect x="228.89" y="396.10" width="3.4" height="3.4" fill="#ae474d"/>
<rect x="233.20" y="396.10" width="3.4" height="3.4" fill="#ae474d"/>
<rect x="237.52" y="396.10" width="3.4" height="3.4" fill="#ae474d"/>
<rect x="239.68" y="396.10" width="3.4" height="3.4" fill="#ae474d"/>
<rect x="241.83" y="396.10" width="3.4" height="3.4" fill="#ae474d"/>
<rect x="246.15" y="396.10" width="3.4" height="3.4" fill="#ae474d"/>
<rect x="250.46" y="396.10" width="3.4" height="3.4" fill="#ae474d"/>
<rect x="254.78" y="396.10" width="3.4" height="3.4" fill="#ae474d"/>
<rect x="259.09" y="396.10" width="3.4" height="3.4" fill="#ae474d"/>
<rect x="261.25" y="396.10" width="3.4" height="3.4" fill="#ae474d"/>
<rect x="267.72" y="396.10" width="3.4" height="3.4" fill="#ae474d"/>
<rect x="269.88" y="396.10" width="3.4" height="3.4" fill="#ae474d"/>
<rect x="272.04" y="388.90" width="3.4" height="3.4" fill="#ae474d"/>
<rect x="274.20" y="388.90" width="3.4" height="3.4" fill="#ae474d"/>
<rect x="276.35" y="388.90" width="3.4" height="3.4" fill="#ae474d"/>
<rect x="278.51" y="388.90" width="3.4" height="3.4" fill="#ae474d"/>
<rect x="280.67" y="388.90" width="3.4" height="3.4" fill="#ae474d"/>
<rect x="282.83" y="388.90" width="3.4" height="3.4" fill="#ae474d"/>
<rect x="284.98" y="388.90" width="3.4" height="3.4" fill="#ae474d"/>
<rect x="287.14" y="388.90" width="3.4" height="3.4" fill="#ae474d"/>
<rect x="289.30" y="388.90" width="3.4" height="3.4" fill="#ae474d"/>
<rect x="291.46" y="388.90" width="3.4" height="3.4" fill="#ae474d"/>
<rect x="293.61" y="388.90" width="3.4" height="3.4" fill="#ae474d"/>
<rect x="295.77" y="388.90" width="3.4" height="3.4" fill="#ae474d"/>
<rect x="297.93" y="388.90" width="3.4" height="3.4" fill="#ae474d"/>
<rect x="300.09" y="388.90" width="3.4" height="3.4" fill="#ae474d"/>
<rect x="302.24" y="388.90" width="3.4" height="3.4" fill="#ae474d"/>
<rect x="304.40" y="388.90" width="3.4" height="3.4" fill="#ae474d"/>
<rect x="306.56" y="388.90" width="3.4" height="3.4" fill="#ae474d"/>
<rect x="308.72" y="388.90" width="3.4" height="3.4" fill="#ae474d"/>
<rect x="310.87" y="388.90" width="3.4" height="3.4" fill="#ae474d"/>
<rect x="313.03" y="388.90" width="3.4" height="3.4" fill="#ae474d"/>
<rect x="315.19" y="388.90" width="3.4" height="3.4" fill="#ae474d"/>
<rect x="317.35" y="388.90" width="3.4" height="3.4" fill="#ae474d"/>
<rect x="319.50" y="388.90" width="3.4" height="3.4" fill="#ae474d"/>
<rect x="321.66" y="388.90" width="3.4" height="3.4" fill="#ae474d"/>
<rect x="323.82" y="388.90" width="3.4" height="3.4" fill="#ae474d"/>
<rect x="325.98" y="388.90" width="3.4" height="3.4" fill="#ae474d"/>
<rect x="328.13" y="388.90" width="3.4" height="3.4" fill="#ae474d"/>
<rect x="330.29" y="388.90" width="3.4" height="3.4" fill="#ae474d"/>
<rect x="332.45" y="388.90" width="3.4" height="3.4" fill="#ae474d"/>
<rect x="334.61" y="388.90" width="3.4" height="3.4" fill="#ae474d"/>
<rect x="336.76" y="388.90" width="3.4" height="3.4" fill="#ae474d"/>
<rect x="338.92" y="388.90" width="3.4" height="3.4" fill="#ae474d"/>
<rect x="341.08" y="388.90" width="3.4" height="3.4" fill="#ae474d"/>
<rect x="343.24" y="388.90" width="3.4" height="3.4" fill="#ae474d"/>
<rect x="345.39" y="388.90" width="3.4" height="3.4" fill="#ae474d"/>
<rect x="347.55" y="388.90" width="3.4" height="3.4" fill="#ae474d"/>
<rect x="349.71" y="388.90" width="3.4" height="3.4" fill="#ae474d"/>
<rect x="351.87" y="388.90" width="3.4" height="3.4" fill="#ae474d"/>
<rect x="354.02" y="388.90" width="3.4" height="3.4" fill="#ae474d"/>
<rect x="356.18" y="388.90" width="3.4" height="3.4" fill="#ae474d"/>
<rect x="358.34" y="388.90" width="3.4" height="3.4" fill="#ae474d"/>
<rect x="360.50" y="388.90" width="3.4" height="3.4" fill="#ae474d"/>
<rect x="362.65" y="388.90" width="3.4" height="3.4" fill="#ae474d"/>
<rect x="364.81" y="388.90" width="3.4" height="3.4" fill="#ae474d"/>
<rect x="366.97" y="388.90" width="3.4" height="3.4" fill="#ae474d"/>
<rect x="369.13" y="388.90" width="3.4" height="3.4" fill="#ae474d"/>
<rect x="371.28" y="388.90" width="3.4" height="3.4" fill="#ae474d"/>
<rect x="373.44" y="388.90" width="3.4" height="3.4" fill="#ae474d"/>
<rect x="375.60" y="388.90" width="3.4" height="3.4" fill="#ae474d"/>
<rect x="377.76" y="388.90" width="3.4" height="3.4" fill="#ae474d"/>
<rect x="379.91" y="388.90" width="3.4" height="3.4" fill="#ae474d"/>
<rect x="382.07" y="388.90" width="3.4" height="3.4" fill="#ae474d"/>
<rect x="384.23" y="388.90" width="3.4" height="3.4" fill="#ae474d"/>
<rect x="386.39" y="388.90" width="3.4" height="3.4" fill="#ae474d"/>
<rect x="388.54" y="388.90" width="3.4" height="3.4" fill="#ae474d"/>
<rect x="390.70" y="388.90" width="3.4" height="3.4" fill="#ae474d"/>
<rect x="392.86" y="388.90" width="3.4" height="3.4" fill="#ae474d"/>
<rect x="395.02" y="388.90" width="3.4" height="3.4" fill="#ae474d"/>
<rect x="397.17" y="388.90" width="3.4" height="3.4" fill="#ae474d"/>
<rect x="399.33" y="388.90" width="3.4" height="3.4" fill="#ae474d"/>
<rect x="401.49" y="388.90" width="3.4" height="3.4" fill="#ae474d"/>
<rect x="403.65" y="388.90" width="3.4" height="3.4" fill="#ae474d"/>
<rect x="405.80" y="388.90" width="3.4" height="3.4" fill="#ae474d"/>
<rect x="407.96" y="388.90" width="3.4" height="3.4" fill="#ae474d"/>
<rect x="410.12" y="388.90" width="3.4" height="3.4" fill="#ae474d"/>
<rect x="412.28" y="388.90" width="3.4" height="3.4" fill="#ae474d"/>
<rect x="414.43" y="388.90" width="3.4" height="3.4" fill="#ae474d"/>
<rect x="416.59" y="388.90" width="3.4" height="3.4" fill="#ae474d"/>
<rect x="418.75" y="388.90" width="3.4" height="3.4" fill="#ae474d"/>
<rect x="420.91" y="388.90" width="3.4" height="3.4" fill="#ae474d"/>
<rect x="423.06" y="388.90" width="3.4" height="3.4" fill="#ae474d"/>
<rect x="75.70" y="318.70" width="3.4" height="3.4" fill="#ae474d"/>
<rect x="162.10" y="373.80" width="3.4" height="3.4" fill="#ae474d"/>
<rect x="174.70" y="377.40" width="3.4" height="3.4" fill="#ae474d"/>
<rect x="176.90" y="381.30" width="3.4" height="3.4" fill="#ae474d"/>
<rect x="183.90" y="381.30" width="3.4" height="3.4" fill="#ae474d"/>
<rect x="187.80" y="381.30" width="3.4" height="3.4" fill="#ae474d"/>
<rect x="194.70" y="381.30" width="3.4" height="3.4" fill="#ae474d"/>
<rect x="198.50" y="381.30" width="3.4" height="3.4" fill="#ae474d"/>
<rect x="204.90" y="381.30" width="3.4" height="3.4" fill="#ae474d"/>
<rect x="189.60" y="384.60" width="3.4" height="3.4" fill="#ae474d"/>
<rect x="199.20" y="381.30" width="3.4" height="3.4" fill="#ae474d"/>
<rect x="218.30" y="388.30" width="3.4" height="3.4" fill="#ae474d"/>
<rect x="222.10" y="388.30" width="3.4" height="3.4" fill="#ae474d"/>
<rect x="226.30" y="388.30" width="3.4" height="3.4" fill="#ae474d"/>
<rect x="230.20" y="388.30" width="3.4" height="3.4" fill="#ae474d"/>
<rect x="234.60" y="388.30" width="3.4" height="3.4" fill="#ae474d"/>
<rect x="243.80" y="388.80" width="3.4" height="3.4" fill="#ae474d"/>
<rect x="248.00" y="388.80" width="3.4" height="3.4" fill="#ae474d"/>
<rect x="252.20" y="388.80" width="3.4" height="3.4" fill="#ae474d"/>
<rect x="256.40" y="388.80" width="3.4" height="3.4" fill="#ae474d"/>
<rect x="265.80" y="384.60" width="3.4" height="3.4" fill="#ae474d"/>
<rect x="263.00" y="388.30" width="3.4" height="3.4" fill="#ae474d"/>
<rect x="269.50" y="395.90" width="3.4" height="3.4" fill="#ae474d"/>
<rect x="293.40" y="392.60" width="3.4" height="3.4" fill="#ae474d"/>
<rect x="299.50" y="392.60" width="3.4" height="3.4" fill="#ae474d"/>
<rect x="304.20" y="392.60" width="3.4" height="3.4" fill="#ae474d"/>
<rect x="310.80" y="384.60" width="3.4" height="3.4" fill="#ae474d"/>
<rect x="340.80" y="384.50" width="3.4" height="3.4" fill="#ae474d"/>
<rect x="351.60" y="381.20" width="3.4" height="3.4" fill="#ae474d"/>
<rect x="332.40" y="392.00" width="3.4" height="3.4" fill="#ae474d"/>
<rect x="338.40" y="392.00" width="3.4" height="3.4" fill="#ae474d"/>
<rect x="345.50" y="392.00" width="3.4" height="3.4" fill="#ae474d"/>
<rect x="349.20" y="392.00" width="3.4" height="3.4" fill="#ae474d"/>
<rect x="358.60" y="384.50" width="3.4" height="3.4" fill="#ae474d"/>
<rect x="364.20" y="384.50" width="3.4" height="3.4" fill="#ae474d"/>
<rect x="368.90" y="384.50" width="3.4" height="3.4" fill="#ae474d"/>
<rect x="366.60" y="392.00" width="3.4" height="3.4" fill="#ae474d"/>
<rect x="375.50" y="384.50" width="3.4" height="3.4" fill="#ae474d"/>
<rect x="375.00" y="392.00" width="3.4" height="3.4" fill="#ae474d"/>
<rect x="379.70" y="385.10" width="3.4" height="3.4" fill="#ae474d"/>
<rect x="390.70" y="385.10" width="3.4" height="3.4" fill="#ae474d"/>
<rect x="387.90" y="392.00" width="3.4" height="3.4" fill="#ae474d"/>
<rect x="396.90" y="392.00" width="3.4" height="3.4" fill="#ae474d"/>
<rect x="407.90" y="392.00" width="3.4" height="3.4" fill="#ae474d"/>
<rect x="410.70" y="385.80" width="3.4" height="3.4" fill="#ae474d"/>
<rect x="413.40" y="385.80" width="3.4" height="3.4" fill="#ae474d"/>
<rect x="418.90" y="381.70" width="3.4" height="3.4" fill="#ae474d"/>
<rect x="423.10" y="382.30" width="3.4" height="3.4" fill="#ae474d"/>
<rect x="425.10" y="366.50" width="3.4" height="3.4" fill="#ae474d"/>
<rect x="427.90" y="351.40" width="3.4" height="3.4" fill="#ae474d"/>
<rect x="446.80" y="130.40" width="3.4" height="3.4" fill="#ae474d"/>
<rect x="442.70" y="137.80" width="3.4" height="3.4" fill="#ae474d"/>
<rect x="435.80" y="163.70" width="3.4" height="3.4" fill="#ae474d"/>
<rect x="434.20" y="71.10" width="3.4" height="3.4" fill="#ae474d"/>
<rect x="436.00" y="163.90" width="3.4" height="3.4" fill="#ae474d"/>
<rect x="437.80" y="214.80" width="3.4" height="3.4" fill="#ae474d"/>
<rect x="440.30" y="263.30" width="3.4" height="3.4" fill="#ae474d"/>
<rect x="450.40" y="237.70" width="3.4" height="3.4" fill="#ae474d"/>
<rect x="453.60" y="244.60" width="3.4" height="3.4" fill="#ae474d"/>
<rect x="449.20" y="252.20" width="3.4" height="3.4" fill="#ae474d"/>
<rect x="515.80" y="178.20" width="3.4" height="3.4" fill="#ae474d"/>
<rect x="431.50" y="314.20" width="3.4" height="3.4" fill="#ae474d"/>
<rect x="455.50" y="303.50" width="3.4" height="3.4" fill="#ae474d"/>
<rect x="468.10" y="318.00" width="3.4" height="3.4" fill="#ae474d"/>
<rect x="475.00" y="318.60" width="3.4" height="3.4" fill="#ae474d"/>
<rect x="478.80" y="326.20" width="3.4" height="3.4" fill="#ae474d"/>
<rect x="457.30" y="336.30" width="3.4" height="3.4" fill="#ae474d"/>
<rect x="457.70" y="337.30" width="3.4" height="3.4" fill="#ae474d"/>
<rect x="459.60" y="351.80" width="3.4" height="3.4" fill="#ae474d"/>
<rect x="462.10" y="333.50" width="3.4" height="3.4" fill="#ae474d"/>
<rect x="468.40" y="318.40" width="3.4" height="3.4" fill="#ae474d"/>
<rect x="470.30" y="340.50" width="3.4" height="3.4" fill="#ae474d"/>
<rect x="472.90" y="337.30" width="3.4" height="3.4" fill="#ae474d"/>
<rect x="476.60" y="337.30" width="3.4" height="3.4" fill="#ae474d"/>
<rect x="479.20" y="326.00" width="3.4" height="3.4" fill="#ae474d"/>
<rect x="481.70" y="337.30" width="3.4" height="3.4" fill="#ae474d"/>
<rect x="483.60" y="337.30" width="3.4" height="3.4" fill="#ae474d"/>
<rect x="487.40" y="344.90" width="3.4" height="3.4" fill="#ae474d"/>
<rect x="489.90" y="341.10" width="3.4" height="3.4" fill="#ae474d"/>
<rect x="492.20" y="326.00" width="3.4" height="3.4" fill="#ae474d"/>
<rect x="496.20" y="322.20" width="3.4" height="3.4" fill="#ae474d"/>
<rect x="498.10" y="318.40" width="3.4" height="3.4" fill="#ae474d"/>
<rect x="500.60" y="351.80" width="3.4" height="3.4" fill="#ae474d"/>
<rect x="505.00" y="322.20" width="3.4" height="3.4" fill="#ae474d"/>
<rect x="506.90" y="318.40" width="3.4" height="3.4" fill="#ae474d"/>
<rect x="513.60" y="329.80" width="3.4" height="3.4" fill="#ae474d"/>
<rect x="517.70" y="314.60" width="3.4" height="3.4" fill="#ae474d"/>
<rect x="520.20" y="318.40" width="3.4" height="3.4" fill="#ae474d"/>
<rect x="522.40" y="314.60" width="3.4" height="3.4" fill="#ae474d"/>
<rect x="526.50" y="329.80" width="3.4" height="3.4" fill="#ae474d"/>
<rect x="529.00" y="329.80" width="3.4" height="3.4" fill="#ae474d"/>
<rect x="530.90" y="326.00" width="3.4" height="3.4" fill="#ae474d"/>
<rect x="532.20" y="333.50" width="3.4" height="3.4" fill="#ae474d"/>
<rect x="509.30" y="299.80" width="3.4" height="3.4" fill="#ae474d"/>
<rect x="511.80" y="307.40" width="3.4" height="3.4" fill="#ae474d"/>
<rect x="525.10" y="307.40" width="3.4" height="3.4" fill="#ae474d"/>
<rect x="544.00" y="292.30" width="3.4" height="3.4" fill="#ae474d"/>
<rect x="517.50" y="314.30" width="3.4" height="3.4" fill="#ae474d"/>
<rect x="520.00" y="318.80" width="3.4" height="3.4" fill="#ae474d"/>
<rect x="522.60" y="314.30" width="3.4" height="3.4" fill="#ae474d"/>
<rect x="535.20" y="314.30" width="3.4" height="3.4" fill="#ae474d"/>
<rect x="537.70" y="318.80" width="3.4" height="3.4" fill="#ae474d"/>
<rect x="498.00" y="318.80" width="3.4" height="3.4" fill="#ae474d"/>
<rect x="506.20" y="318.80" width="3.4" height="3.4" fill="#ae474d"/>
<rect x="474.60" y="318.80" width="3.4" height="3.4" fill="#ae474d"/>
<rect x="468.90" y="318.80" width="3.4" height="3.4" fill="#ae474d"/>
<rect x="561.50" y="285.50" width="3.4" height="3.4" fill="#ae474d"/>
<rect x="543.90" y="292.80" width="3.4" height="3.4" fill="#ae474d"/>
<rect x="524.60" y="307.40" width="3.4" height="3.4" fill="#ae474d"/>
<rect x="519.00" y="314.80" width="3.4" height="3.4" fill="#ae474d"/>
<rect x="522.50" y="314.80" width="3.4" height="3.4" fill="#ae474d"/>
<rect x="520.50" y="318.50" width="3.4" height="3.4" fill="#ae474d"/>
<rect x="535.40" y="314.80" width="3.4" height="3.4" fill="#ae474d"/>
<rect x="537.70" y="318.50" width="3.4" height="3.4" fill="#ae474d"/>
<rect x="542.10" y="318.50" width="3.4" height="3.4" fill="#ae474d"/>
<rect x="526.50" y="329.70" width="3.4" height="3.4" fill="#ae474d"/>
<rect x="528.70" y="329.70" width="3.4" height="3.4" fill="#ae474d"/>
<rect x="531.00" y="326.00" width="3.4" height="3.4" fill="#ae474d"/>
<rect x="533.20" y="333.40" width="3.4" height="3.4" fill="#ae474d"/>
<rect x="539.90" y="333.40" width="3.4" height="3.4" fill="#ae474d"/>
<rect x="548.10" y="326.00" width="3.4" height="3.4" fill="#ae474d"/>
<rect x="550.30" y="329.70" width="3.4" height="3.4" fill="#ae474d"/>
<rect x="554.80" y="333.40" width="3.4" height="3.4" fill="#ae474d"/>
<rect x="552.60" y="340.10" width="3.4" height="3.4" fill="#ae474d"/>
<rect x="557.00" y="340.10" width="3.4" height="3.4" fill="#ae474d"/>
<path d="M37.6,397.9 L75.4,397.9 L77.5,382.2 L86.8,382.2 L89.0,397.9 L160.5,397.5 L163.0,393.1 L172.5,393.1 L175.0,396.0 L177.5,395.5 L182.0,392.0 L185.6,388.9 L188.0,392.3 L190.6,390.0 L193.8,389.4 L201.2,389.4 L203.7,391.0 L209.4,391.5 L212.2,393.3 L215.9,394.7 L260.0,394.5 L262.8,391.5 L268.4,390.5 L272.2,390.0 L320.0,389.3 L357.5,389.5 L380.0,388.5 L386.9,389.6 L400.7,391.0 L411.7,390.3 L420.0,388.9 L423.7,387.5 L426.1,384.2 L428.2,377.5 L430.2,368.0 L432.0,356.0 L433.4,344.2 L434.4,335.0 L436.3,285.0 L438.9,235.0 L443.3,185.0 L444.2,172.0 L446.2,198.0 L448.3,190.0 L450.3,194.5 L452.8,192.0 L455.3,216.5 L457.2,235.0 L460.3,285.0 L462.8,312.7 L465.4,331.7 L467.6,342.2 L470.1,337.8 L473.9,335.2 L478.3,332.7 L484.7,333.3 L488.4,336.5 L491.6,339.7 L495.4,338.4 L499.8,331.5 L503.6,334.6 L508.0,330.8 L510.5,328.3 L513.0,318.8 L514.9,313.8 L517.3,288.3 L519.8,287.7 L523.0,292.7 L526.0,288.2 L527.5,306.8 L528.9,319.5 L531.9,323.2 L534.9,327.7 L537.1,328.4 L539.4,326.9 L542.4,326.2 L544.6,320.2 L546.8,316.5 L549.8,318.0 L552.0,318.7 L554.3,323.2 L556.5,330.7 L558.7,335.9 L561.0,336.6 L563.2,328.4" fill="none" stroke="#c0504d" stroke-width="3.3" stroke-linejoin="round" stroke-linecap="round"/>
</g>
<text transform="translate(27.3,402.00) scale(0.86,1)" x="0" y="0" text-anchor="end" font-family="Liberation Serif" font-size="13.9" fill="#111" stroke="#111" stroke-width="0.2">0</text>
<text transform="translate(27.3,309.88) scale(0.86,1)" x="0" y="0" text-anchor="end" font-family="Liberation Serif" font-size="13.9" fill="#111" stroke="#111" stroke-width="0.2">25</text>
<text transform="translate(27.3,217.75) scale(0.86,1)" x="0" y="0" text-anchor="end" font-family="Liberation Serif" font-size="13.9" fill="#111" stroke="#111" stroke-width="0.2">50</text>
<text transform="translate(27.3,125.62) scale(0.86,1)" x="0" y="0" text-anchor="end" font-family="Liberation Serif" font-size="13.9" fill="#111" stroke="#111" stroke-width="0.2">75</text>
<text transform="translate(27.3,33.50) scale(0.86,1)" x="0" y="0" text-anchor="end" font-family="Liberation Serif" font-size="13.9" fill="#111" stroke="#111" stroke-width="0.2">100</text>
<text x="77.94" y="420.9" text-anchor="middle" font-family="Liberation Serif" font-weight="bold" font-size="16.8" textLength="30" lengthAdjust="spacingAndGlyphs" fill="#000" stroke="#000" stroke-width="0.3">2005</text>
<text x="207.38" y="420.9" text-anchor="middle" font-family="Liberation Serif" font-weight="bold" font-size="16.8" textLength="30" lengthAdjust="spacingAndGlyphs" fill="#000" stroke="#000" stroke-width="0.3">2010</text>
<text x="336.84" y="420.9" text-anchor="middle" font-family="Liberation Serif" font-weight="bold" font-size="16.8" textLength="30" lengthAdjust="spacingAndGlyphs" fill="#000" stroke="#000" stroke-width="0.3">2015</text>
<text x="466.29" y="420.9" text-anchor="middle" font-family="Liberation Serif" font-weight="bold" font-size="16.8" textLength="30" lengthAdjust="spacingAndGlyphs" fill="#000" stroke="#000" stroke-width="0.3">2020</text>
<text x="595.74" y="420.9" text-anchor="middle" font-family="Liberation Serif" font-weight="bold" font-size="16.8" textLength="30" lengthAdjust="spacingAndGlyphs" fill="#000" stroke="#000" stroke-width="0.3">2025</text>
<text x="185.8" y="71.1" font-family="Liberation Serif" font-weight="bold" font-size="26.2" textLength="275" lengthAdjust="spacingAndGlyphs" fill="#000" stroke="#000" stroke-width="0.3">Google search term usage</text>
<text x="180.2" y="85.7" font-family="Liberation Serif" font-weight="bold" font-size="10.4" textLength="286" lengthAdjust="spacingAndGlyphs" fill="#000">Data: Google Trends (worldwide, web search, 5-month smoothing)</text>
<line x1="177" y1="138.9" x2="200" y2="138.9" stroke="#4f84cb" stroke-width="3.3" stroke-linecap="round"/>
<line x1="177" y1="168.0" x2="200" y2="168.0" stroke="#c0504d" stroke-width="3.3" stroke-linecap="round"/>
<text x="209.5" y="145.8" font-family="Liberation Serif" font-size="22.5" fill="#000">"Climate crisis"</text>
<text x="209.5" y="175.2" font-family="Liberation Serif" font-size="22.5" fill="#000">"Climate emergency"</text>
<rect x="638.8" y="0" width="1.2" height="436" fill="#000"/>
</svg>
</body></html>
